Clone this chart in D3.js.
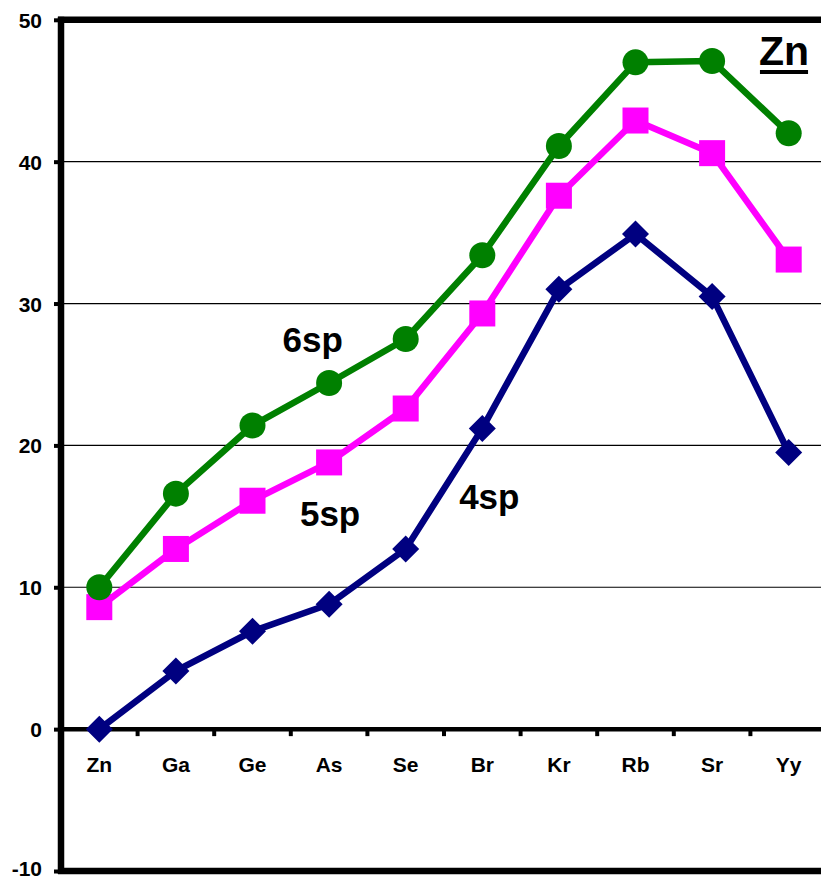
<!DOCTYPE html>
<html><head><meta charset="utf-8">
<script src="https://cdn.jsdelivr.net/npm/d3@7"></script>
<style>body{margin:0;background:#fff}svg{display:block}text{font-family:"Liberation Sans",Arial,sans-serif;font-weight:bold;fill:#000}</style>
</head><body>
<script>
const categories = ["Zn","Ga","Ge","As","Se","Br","Kr","Rb","Sr","Yy"];
const sp6 = [10.0,16.6,21.4,24.4,27.5,33.4,41.1,47.0,47.1,42.0];
const sp5 = [8.6,12.7,16.1,18.8,22.6,29.3,37.6,42.9,40.6,33.1];
const sp4 = [0.0,4.1,6.9,8.8,12.7,21.2,31.0,34.9,30.5,19.5];
const yTicks = [-10,0,10,20,30,40,50];
const gridValues = [10,20,30,40];
const seriesNames = ["4sp","5sp","6sp"];
const seriesColors = ["#000080","#FF00FF","#008000"];
const seriesLabels = [{name:"6sp",cat:"Se",v:26.6,dx:-93},{name:"5sp",cat:"As",v:14.3,dx:1},{name:"4sp",cat:"Br",v:15.5,dx:7}];

const W=821,H=880;
const svg=d3.select("body").append("svg").attr("width",W).attr("height",H);
const x=d3.scaleBand().domain(categories).range([61,827]).paddingInner(0).paddingOuter(0);
const y=d3.scaleLinear().domain([-10,50]).range([871,19.8]);

// grid
svg.append("g").selectAll("line").data(gridValues).join("line")
  .attr("x1",61).attr("x2",W).attr("y1",d=>y(d)).attr("y2",d=>y(d))
  .attr("stroke","#000").attr("stroke-width",1.2);

// top & bottom border
[50,-10].forEach(v=>{
  svg.append("line").attr("x1",58).attr("x2",W).attr("y1",y(v)).attr("y2",y(v))
    .attr("stroke","#000").attr("stroke-width",6.5);
});

// y axis
const yAxis=d3.axisLeft(y).tickValues(yTicks).tickSize(7).tickPadding(12).tickFormat(d=>String(d));
const gy=svg.append("g").attr("transform","translate(61,0)").call(yAxis);
gy.select(".domain").attr("stroke","#000").attr("stroke-width",6.5).attr("d",`M0,${y(50)-3}V${y(-10)+3}`);
gy.selectAll(".tick line").attr("stroke","#000").attr("stroke-width",4);
gy.selectAll(".tick text").style("font-size","21px").attr("dy",d=>d===-10?"0.2em":"0.36em");

// x axis at zero
const boundaries = categories.slice(1).map(c=>x(c));
svg.append("line").attr("x1",61).attr("x2",W).attr("y1",y(0)).attr("y2",y(0))
  .attr("stroke","#000").attr("stroke-width",4.5);
svg.append("g").selectAll("line").data(boundaries).join("line")
  .attr("x1",d=>d).attr("x2",d=>d).attr("y1",y(0)).attr("y2",y(0)+7)
  .attr("stroke","#000").attr("stroke-width",4);
svg.append("g").selectAll("text").data(categories).join("text")
  .attr("x",d=>x(d)+x.bandwidth()/2).attr("y",y(0)+43)
  .attr("text-anchor","middle").style("font-size","21px").text(d=>d);

// series
const data=[sp4,sp5,sp6];
const line=d3.line().x((d,i)=>x(categories[i])+x.bandwidth()/2).y(d=>y(d));
data.forEach((vals,si)=>{
  const g=svg.append("g");
  const c=seriesColors[si];
  g.append("path").datum(vals).attr("d",line).attr("fill","none").attr("stroke",c)
    .attr("stroke-width",6.5).attr("stroke-linejoin","round");
  const pts=vals.map((v,i)=>({cx:x(categories[i])+x.bandwidth()/2,cy:y(v)}));
  if(si===2){
    g.selectAll("circle").data(pts).join("circle").attr("cx",d=>d.cx).attr("cy",d=>d.cy).attr("r",13).attr("fill",c);
  } else if(si===1){
    g.selectAll("rect").data(pts).join("rect").attr("x",d=>d.cx-13).attr("y",d=>d.cy-13).attr("width",26).attr("height",26).attr("fill",c);
  } else {
    const s=13.5;
    g.selectAll("path.m").data(pts).join("path").attr("class","m")
      .attr("d",d=>`M${d.cx},${d.cy-s}L${d.cx+s},${d.cy}L${d.cx},${d.cy+s}L${d.cx-s},${d.cy}Z`).attr("fill",c);
  }
});

// series labels
seriesLabels.forEach(l=>{
  svg.append("text").attr("x",x(l.cat)+x.bandwidth()/2+l.dx).attr("y",y(l.v))
    .attr("text-anchor","middle").style("font-size","35px").text(l.name);
});

// title Zn underlined
const t=svg.append("text").attr("x",784).attr("y",65).attr("text-anchor","middle").style("font-size","41px").text("Zn");
const bb=t.node().getBBox();
svg.append("rect").attr("x",bb.x+1).attr("y",70).attr("width",bb.width-2).attr("height",4).attr("fill","#000");
</script>
</body></html>
